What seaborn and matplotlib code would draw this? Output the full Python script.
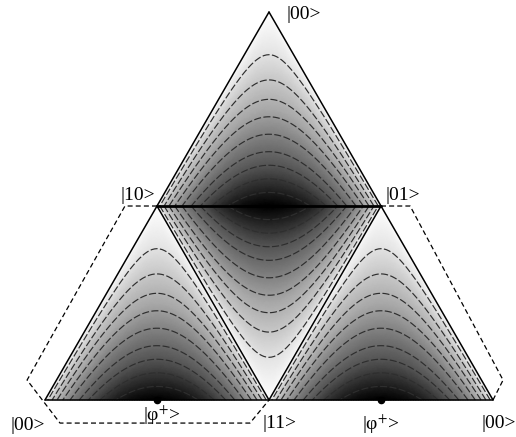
import numpy as np
import matplotlib
matplotlib.use("Agg")
import matplotlib.pyplot as plt
import matplotlib.tri as mtri
import seaborn as sns
import pandas as pd
from matplotlib.colors import LinearSegmentedColormap

H = np.sqrt(3) / 2

# vertices of the unfolded tetrahedron (side = 1)
vertex_x = [0.0, 1.0, 2.0, 0.5, 1.5, 1.0]
vertex_y = [0.0, 0.0, 0.0, H, H, 2 * H]
# faces: (apex, edge end 1, edge end 2); value = 2*sqrt(w1*w2)
faces = [(5, 3, 4), (1, 3, 4), (3, 0, 1), (4, 1, 2)]

contour_levels = [0.22, 0.35, 0.45, 0.54, 0.63, 0.72, 0.79, 0.86, 0.93]
gray_pos = [0.0, 0.2, 0.5, 0.8, 1.0]
gray_val = [1.0, 0.9, 0.66, 0.32, 0.0]

label_text = ["|00>", "|10>", "|01>", "|00>", r"|φ$^{+}$>", "|11>",
              r"|φ$^{+}$>", "|00>"]
label_x = [1.08, 0.335, 1.522, -0.152, 0.4375, 0.973, 1.415, 1.948]
label_y = [1.719, 0.915, 0.915, -0.112, -0.067, -0.103, -0.108, -0.103]

marker_x = [0.5, 1.5]
marker_y = [0.0, 0.0]

dash_left_x = [0.5, 0.357, -0.08, 0.067, 0.915, 1.0]
dash_left_y = [H, H, 0.089, -0.103, -0.103, 0.0]
dash_right_x = [1.5, 1.63, 2.045, 2.0]
dash_right_y = [H, H, 0.089, 0.0]

sns.set_theme(style="white")
plt.rcParams['font.family'] = ['Liberation Serif', 'DejaVu Serif']
plt.rcParams['mathtext.fontset'] = 'stix'

fig = plt.figure(figsize=(5.16, 4.37), dpi=100)
ax = fig.add_axes([0, 0, 1, 1])
ax.set_aspect('equal')
ax.axis('off')

cmap = LinearSegmentedColormap.from_list(
    "g", [(p, (v, v, v)) for p, v in zip(gray_pos, gray_val)])

n = 90
for (i0, i1, i2) in faces:
    P0 = np.array([vertex_x[i0], vertex_y[i0]])
    P1 = np.array([vertex_x[i1], vertex_y[i1]])
    P2 = np.array([vertex_x[i2], vertex_y[i2]])
    w1l, w2l = [], []
    for a in range(n + 1):
        for b in range(n + 1 - a):
            w1l.append(a / n)
            w2l.append(b / n)
    w1 = np.array(w1l)
    w2 = np.array(w2l)
    w0 = np.clip(1 - w1 - w2, 0, 1)
    px = w0 * P0[0] + w1 * P1[0] + w2 * P2[0]
    py = w0 * P0[1] + w1 * P1[1] + w2 * P2[1]
    val = 2 * np.sqrt(w1 * w2)
    tri = mtri.Triangulation(px, py)
    ax.tripcolor(tri, val, shading='gouraud', cmap=cmap, vmin=0, vmax=1,
                 rasterized=True)
    cs = ax.tricontour(tri, val, levels=contour_levels, colors='#2e2e2e',
                       linewidths=0.85, linestyles='--')
    cs.set_dashes([(0, (6, 2))])

# triangle outlines
edges = [(0, 2), (0, 5), (2, 5), (3, 1), (1, 4)]
for (a, b) in edges:
    df = pd.DataFrame({"x": [vertex_x[a], vertex_x[b]],
                       "y": [vertex_y[a], vertex_y[b]]})
    sns.lineplot(data=df, x="x", y="y", sort=False, color='black',
                 linewidth=1.1, ax=ax, estimator=None)
df = pd.DataFrame({"x": [vertex_x[3], vertex_x[4]],
                   "y": [vertex_y[3], vertex_y[4]]})
sns.lineplot(data=df, x="x", y="y", sort=False, color='black',
             linewidth=2.0, ax=ax, estimator=None)

for xs, ys in [(dash_left_x, dash_left_y), (dash_right_x, dash_right_y)]:
    df = pd.DataFrame({"x": xs, "y": ys})
    sns.lineplot(data=df, x="x", y="y", sort=False, color='black',
                 linewidth=0.9, ax=ax, estimator=None, linestyle=(0, (4, 2.5)))

ax.scatter(marker_x, marker_y, s=20, color='black', zorder=5)

for t, x, y in zip(label_text, label_x, label_y):
    ax.text(x, y, t, fontsize=14, ha='left', va='center', color='black',
            family=['Liberation Serif', 'DejaVu Serif'])

ax.set_xlabel("")
ax.set_ylabel("")
ax.set_xlim(-45 / 224, 471 / 224)
ax.set_ylim(-37 / 224, 400 / 224)
fig.savefig("out.png", dpi=100)
